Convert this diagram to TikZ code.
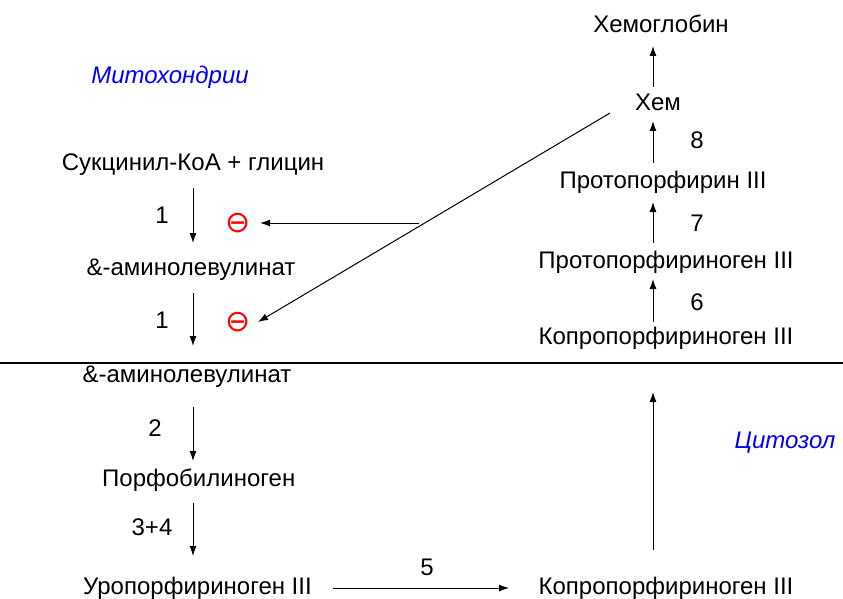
\documentclass[tikz,border=0pt]{standalone}
\usepackage{fontspec}
\setmainfont{Liberation Sans}
\newfontfamily\symfont{DejaVu Sans}
\usetikzlibrary{arrows.meta}
\begin{document}
\begin{tikzpicture}[x=1pt,y=-1pt,
  lbl/.style={font=\fontsize{24}{28}\selectfont, inner sep=0pt, anchor=center},
  num/.style={font=\fontsize{24}{28}\selectfont, inner sep=0pt},
  region/.style={font=\fontsize{24}{28}\selectfont\itshape, text=blue, inner sep=0pt},
  inh/.style={font=\symfont\fontsize{30}{32}\selectfont, text=red, inner sep=0pt},
  arr/.style={line width=1pt, -{Latex[length=10pt,width=7pt]}}]
\useasboundingbox (0,0) rectangle (843,599);
\fill[white] (0,0) rectangle (843,599);
% texts
\node[region] (mito) at (170,77) {Митохондрии};
\node[region] (cyto) at (785,443) {Цитозол};
\node[lbl] (suc) at (193,165) {Сукцинил-КоА + глицин};
\node[lbl] (ala1) at (191,270) {\&-аминолевулинат};
\node[lbl] (ala2) at (187,377) {\&-аминолевулинат};
\node[lbl, anchor=west] (pbg) at (102,480) {Порфобилиноген};
\node[lbl, anchor=west] (uro) at (83,588) {Уропорфириноген III};
\node[lbl] (copb) at (666,588) {Копропорфириноген III};
\node[lbl] (copt) at (666,338) {Копропорфириноген III};
\node[lbl] (protog) at (666,262) {Протопорфириноген III};
\node[lbl] (proto) at (663,182) {Протопорфирин III};
\node[lbl] (hem) at (658,102) {Хем};
\node[lbl] (hb) at (661,24) {Хемоглобин};
% numbers
\node[num] (n1a) at (162,215) {1};
\node[num] (n1b) at (162,320) {1};
\node[num] (n2) at (155,428) {2};
\node[num] (n34) at (152,527) {3+4};
\node[num] (n5) at (427,567) {5};
\node[num] (n6) at (697,302) {6};
\node[num] (n7) at (697,223) {7};
\node[num] (n8) at (697,140) {8};
% inhibition marks
\node[inh] (i1) at (238,223) {⊖};
\node[inh] (i2) at (238,322) {⊖};
% coordinates for arrows
\coordinate (a1s) at (193,188); \coordinate (a1e) at (193,243);
\coordinate (a2s) at (193,293); \coordinate (a2e) at (193,346);
\coordinate (a3s) at (193,407); \coordinate (a3e) at (193,461);
\coordinate (a4s) at (193,503); \coordinate (a4e) at (193,556);
\coordinate (a5s) at (333,588); \coordinate (a5e) at (509,588);
\coordinate (a6s) at (653,550); \coordinate (a6e) at (653,392);
\coordinate (b6s) at (653,322); \coordinate (b6e) at (653,279);
\coordinate (b7s) at (653,243); \coordinate (b7e) at (653,202);
\coordinate (b8s) at (653,163); \coordinate (b8e) at (653,121);
\coordinate (b9s) at (653,87); \coordinate (b9e) at (653,46);
\coordinate (fs) at (610,113); \coordinate (fe) at (258,322);
\coordinate (fm) at (419,223); \coordinate (fe2) at (260,223);
\draw[arr] (a1s) -- (a1e);
\draw[arr] (a2s) -- (a2e);
\draw[arr] (a3s) -- (a3e);
\draw[arr] (a4s) -- (a4e);
\draw[arr] (a5s) -- (a5e);
\draw[arr] (a6s) -- (a6e);
\draw[arr] (b6s) -- (b6e);
\draw[arr] (b7s) -- (b7e);
\draw[arr] (b8s) -- (b8e);
\draw[arr] (b9s) -- (b9e);
\draw[arr] (fs) -- (fe);
\draw[arr] (fm) -- (fe2);
% membrane line
\coordinate (ml) at (0,363); \coordinate (mr) at (843,363);
\draw[line width=1.3pt] (ml) -- (mr);
\end{tikzpicture}
\end{document}
